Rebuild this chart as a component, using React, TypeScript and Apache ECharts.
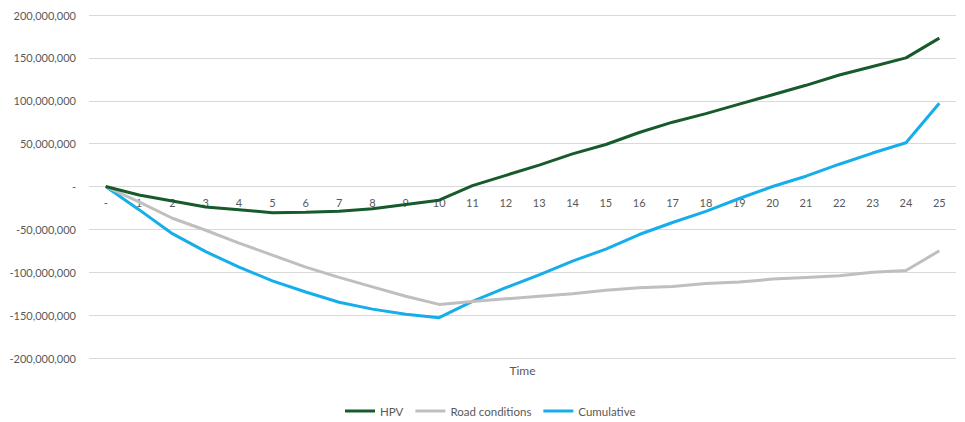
import React, { useEffect, useRef } from "react";
import * as echarts from "echarts";

// Time periods (0 shown as "-")
const periods: string[] = ["-", "1", "2", "3", "4", "5", "6", "7", "8", "9", "10", "11", "12", "13", "14", "15", "16", "17", "18", "19", "20", "21", "22", "23", "24", "25"];

// Series values in millions
const hpv: number[] = [0, -10, -17, -24, -27, -30.5, -30, -29, -26, -21, -16, 1, 13, 25, 38, 49, 63, 75, 85, 96, 107, 118, 130, 140, 150, 173];
const roadConditions: number[] = [0, -18, -37, -51, -66, -80, -94, -106, -117, -128, -137.5, -134, -131, -128, -125, -121, -118, -116.5, -113, -111.5, -108, -106, -104, -100, -98, -75];
const cumulative: number[] = [0, -27, -55, -76, -94, -110, -123, -135, -143, -149, -153, -134, -118, -103, -87, -73, -56, -42, -29, -14, 0, 12, 26, 39, 51, 97];

const seriesNames: string[] = ["HPV", "Road conditions", "Cumulative"];
const seriesColors: string[] = ["#175A2C", "#BFBFBF", "#16AEEA"];

const MILLION = 1_000_000;
const FONT = "Lato, 'Open Sans', 'Liberation Sans', sans-serif";

function formatAxis(v: number): string {
  if (v === 0) return "-";
  return v.toLocaleString("en-US");
}

export default function App() {
  const ref = useRef<HTMLDivElement>(null);

  useEffect(() => {
    if (!ref.current) return;
    const chart = echarts.init(ref.current, undefined, { renderer: "svg" });
    const values = [hpv, roadConditions, cumulative];

    chart.setOption({
      animation: false,
      backgroundColor: "#ffffff",
      textStyle: { fontFamily: FONT },
      grid: { left: 89, right: 9, top: 15, bottom: 64, containLabel: false, outerBoundsMode: "none" },
      legend: {
        left: 345,
        top: 405,
        padding: 0,
        icon: "rect",
        itemWidth: 30,
        itemHeight: 3,
        itemGap: 12,
        textStyle: { fontFamily: FONT, fontSize: 11.5, color: "#595959" },
        data: seriesNames,
      },
      xAxis: {
        type: "category",
        data: periods,
        boundaryGap: true,
        name: "Time",
        nameLocation: "middle",
        nameGap: 6,
        nameTextStyle: { fontFamily: FONT, fontSize: 12, color: "#595959" },
        // period labels sit just under the zero line
        axisLine: { show: false },
        axisTick: { show: false },
        axisLabel: { fontFamily: FONT, fontSize: 11, color: "#595959", margin: -161, interval: 0 },
        splitLine: { show: false },
      },
      yAxis: {
        type: "value",
        min: -200 * MILLION,
        max: 200 * MILLION,
        interval: 50 * MILLION,
        axisLine: { show: false },
        axisTick: { show: false },
        axisLabel: {
          fontFamily: FONT,
          fontSize: 11,
          color: "#595959",
          margin: 13,
          formatter: (v: number) => formatAxis(v),
        },
        splitLine: { lineStyle: { color: "#D9D9D9", width: 1 } },
      },
      series: seriesNames.map((name, i) => ({
        name,
        type: "line",
        data: values[i].map((v) => v * MILLION),
        symbol: "none",
        smooth: false,
        lineStyle: { color: seriesColors[i], width: 3 },
        itemStyle: { color: seriesColors[i] },
        z: 3 - i,
      })),
    });

    return () => chart.dispose();
  }, []);

  return (
    <div
      ref={ref}
      style={{ position: "absolute", left: 0, top: 0, width: 965, height: 422 }}
    />
  );
}
